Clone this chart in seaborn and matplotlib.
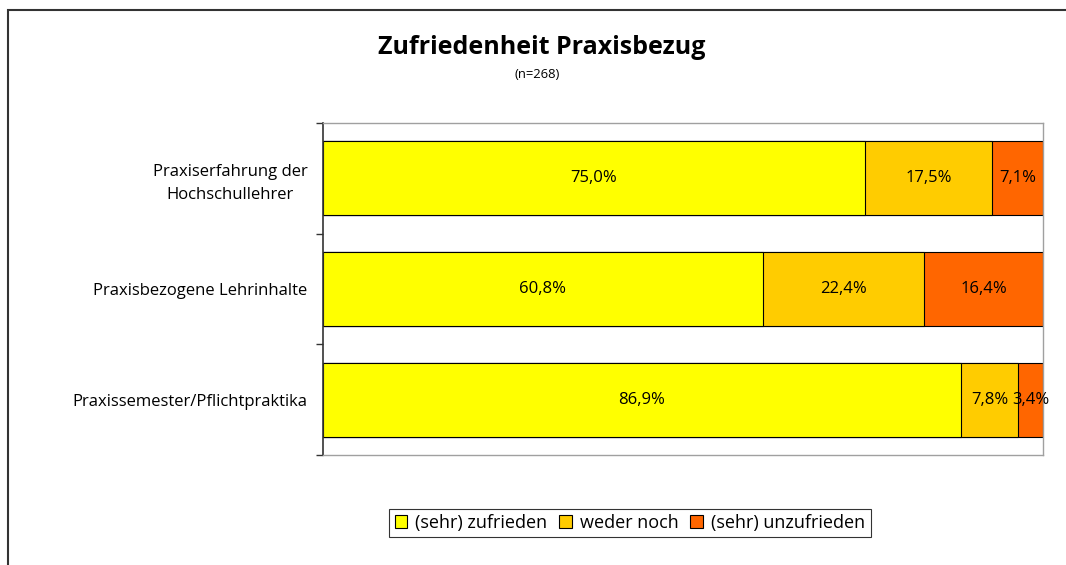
import numpy as np
import pandas as pd
import matplotlib
matplotlib.use("Agg")
import matplotlib.pyplot as plt
import matplotlib.patches as mpatches
import seaborn as sns

# data
categories = ["Praxiserfahrung der\nHochschullehrer",
              "Praxisbezogene Lehrinhalte",
              "Praxissemester/Pflichtpraktika"]
zufrieden = [75.0, 60.8, 86.9]
weder_noch = [17.5, 22.4, 7.8]
unzufrieden = [7.1, 16.4, 3.4]
series_names = ["(sehr) zufrieden", "weder noch", "(sehr) unzufrieden"]
colors = ["#FFFF00", "#FFCC00", "#FF6600"]

sns.set_theme(style="white")
plt.rcParams["font.family"] = ["Open Sans", "DejaVu Sans"]
plt.rcParams["text.color"] = "black"
plt.rcParams["ytick.color"] = "black"
plt.rcParams["ytick.labelcolor"] = "black"

# 100% stacked: normalise each row, labels keep the raw values
raw = np.array([zufrieden, weder_noch, unzufrieden])
share = raw / raw.sum(axis=0) * 100
cum = np.cumsum(share, axis=0)

df = pd.DataFrame({"cat": categories})
for i in range(3):
    df[f"cum{i}"] = cum[i]

fig = plt.figure(figsize=(10.66, 5.65), dpi=100)
ax = fig.add_axes([323 / 1066, 1 - 455 / 565, 720 / 1066, 332 / 565])

# draw from the widest (total) down so the stacks show
for i in [2, 1, 0]:
    sns.barplot(data=df, y="cat", x=f"cum{i}", orient="h", color=colors[i],
                saturation=1, width=0.67, edgecolor="black", linewidth=0.8, ax=ax)

for i in range(3):
    start = cum[i] - share[i]
    for j in range(len(categories)):
        ax.text(start[j] + share[i][j] / 2, j, f"{raw[i][j]:.1f}%".replace(".", ","),
                ha="center", va="center", fontsize=12, color="black")

ax.set_xlim(0, 100)
ax.set_ylim(2.5, -0.5)
ax.set_xlabel("")
ax.set_ylabel("")
ax.set_xticks([])
ax.set_yticks(range(len(categories)))
ax.set_yticklabels(categories, fontsize=12, multialignment="center", linespacing=1.55)
ax.set_yticks([-0.5, 0.5, 1.5, 2.5], minor=True)
ax.tick_params(axis="y", which="major", length=0, pad=11)
ax.tick_params(axis="y", which="minor", length=5, width=1, color="#333333", direction="out", left=True)

for side in ["top", "right", "bottom"]:
    ax.spines[side].set_color("#A0A0A0")
    ax.spines[side].set_linewidth(1)
ax.spines["left"].set_color("#333333")
ax.spines["left"].set_linewidth(1.2)

fig.text(0.508, 1 - 47 / 565, "Zufriedenheit Praxisbezug", ha="center", va="center",
         fontsize=18, fontweight="bold")
fig.text(0.504, 1 - 75 / 565, "(n=268)", ha="center", va="center", fontsize=9.4)

handles = [mpatches.Patch(facecolor=c, edgecolor="black", linewidth=0.8) for c in colors]
leg = fig.legend(handles, series_names, loc="center", bbox_to_anchor=(630 / 1066, 1 - 523 / 565),
                 ncol=3, frameon=True, fancybox=False, fontsize=13, handlelength=0.7,
                 handleheight=0.7, handletextpad=0.45, columnspacing=0.65, borderpad=0.3)
leg.get_frame().set_edgecolor("black")
leg.get_frame().set_linewidth(0.8)

# outer chart frame (cut off on the right and bottom in the reference)
frame = mpatches.Rectangle((8 / 1066, -0.2), 1.2, 1 - 10 / 565 + 0.2, transform=fig.transFigure,
                           fill=False, edgecolor="#333333", linewidth=1.5, clip_on=False)
fig.patches.append(frame)

fig.savefig("out.png", dpi=100)
